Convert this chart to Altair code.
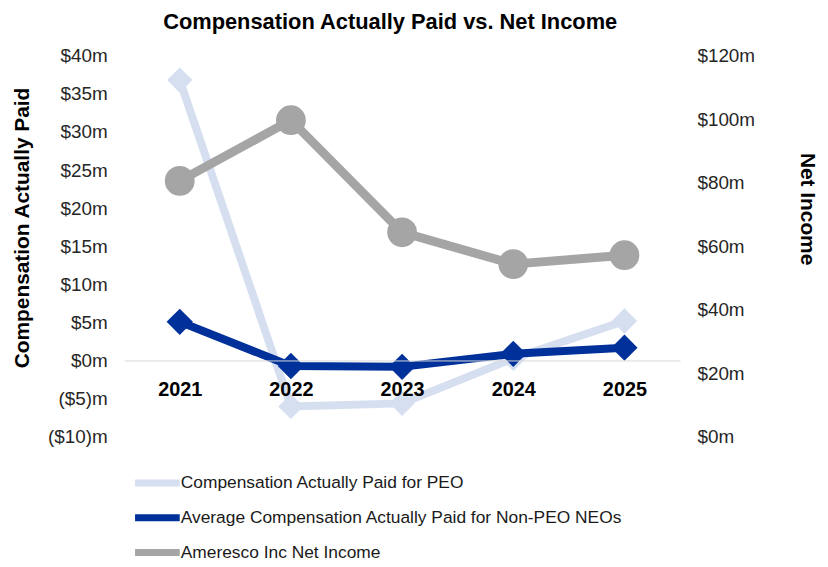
import altair as alt
import pandas as pd

years = ["2021", "2022", "2023", "2024", "2025"]
peo_cap = [36.8, -6.0, -5.6, 0.3, 5.2]
neo_cap = [5.1, -0.7, -0.8, 0.9, 1.7]
net_income = [80.6, 99.7, 64.4, 54.4, 57.2]

s_peo = "Compensation Actually Paid for PEO"
s_neo = "Average Compensation Actually Paid for Non-PEO NEOs"
s_ni = "Ameresco Inc Net Income"
series = [s_peo, s_neo, s_ni]
colors = ["#D5DFF0", "#00309A", "#A5A5A5"]

left_ticks = list(range(-10, 41, 5))
right_ticks = list(range(0, 121, 20))

df_peo = pd.DataFrame({"year": years, "value": peo_cap, "series": [s_peo] * 5})
df_neo = pd.DataFrame({"year": years, "value": neo_cap, "series": [s_neo] * 5})
df_ni = pd.DataFrame({"year": years, "value": net_income, "series": [s_ni] * 5})

FONT = "Liberation Sans"

color = alt.Color(
    "series:N",
    scale=alt.Scale(domain=series, range=colors),
    legend=alt.Legend(
        title=None, orient="none", legendX=20, legendY=417,
        symbolType="M-2.25,0H2.25", symbolSize=400, symbolStrokeWidth=7,
        labelFont=FONT, labelFontSize=17.5, labelColor="#1a1a1a",
        labelOffset=10, rowPadding=6, labelLimit=600,
    ),
)

x = alt.X(
    "year:O",
    scale=alt.Scale(type="point", padding=0.5),
    axis=alt.Axis(
        title=None, labelAngle=0, labelFont=FONT, labelFontSize=20,
        labelFontWeight="bold", labelColor="#000000", ticks=False, grid=False,
        domainColor="#D9D9D9", domainWidth=1, offset=-77, labelPadding=19,
        zindex=1,
    ),
)

y_left = alt.Y(
    "value:Q",
    scale=alt.Scale(domain=[-10, 40], nice=False, zero=False),
    axis=alt.Axis(
        values=left_ticks, grid=False, domain=False, ticks=False,
        labelExpr="datum.value < 0 ? '($' + abs(datum.value) + ')m' : '$' + datum.value + 'm'",
        labelFont=FONT, labelFontSize=19, labelColor="#262626", labelPadding=17,
        title="Compensation Actually Paid", titleFont=FONT, titleFontSize=21,
        titleFontWeight="bold", titleColor="#000000", titlePadding=15,
        titleY=173,
    ),
)
y_right = alt.Y(
    "value:Q",
    scale=alt.Scale(domain=[0, 120], nice=False),
    axis=alt.Axis(
        orient="right", values=right_ticks, grid=False, domain=False, ticks=False,
        labelExpr="'$' + datum.value + 'm'",
        labelFont=FONT, labelFontSize=19, labelColor="#262626", labelPadding=17,
        title="Net Income", titleFont=FONT, titleFontSize=21,
        titleFontWeight="bold", titleColor="#000000", titlePadding=42,
        titleY=154,
    ),
)

enc_left = dict(x=x, y=y_left, color=color)
enc_right = dict(x=x, y=y_right, color=color)

peo_line = alt.Chart(df_peo).mark_line(strokeWidth=8).encode(**enc_left)
peo_pts = alt.Chart(df_peo).mark_point(shape="diamond", filled=True, size=650, opacity=1).encode(**enc_left)
neo_line = alt.Chart(df_neo).mark_line(strokeWidth=8).encode(**enc_left)
neo_pts = alt.Chart(df_neo).mark_point(shape="diamond", filled=True, size=700, opacity=1).encode(**enc_left)
left = alt.layer(peo_line, peo_pts, neo_line, neo_pts)

ni_line = alt.Chart(df_ni).mark_line(strokeWidth=9).encode(**enc_right)
ni_pts = alt.Chart(df_ni).mark_point(shape="circle", filled=True, size=900, opacity=1).encode(**enc_right)
right = alt.layer(ni_line, ni_pts)

chart = (
    alt.layer(left, right)
    .resolve_scale(y="independent")
    .properties(
        width=560, height=384,
        padding={"left": 3, "top": 1, "right": 2, "bottom": 0},
        title=alt.TitleParams(
            "Compensation Actually Paid vs. Net Income",
            font=FONT, fontSize=22, fontWeight="bold", color="#000000",
            anchor="middle", offset=13, dx=-12,
        ),
    )
    .configure(background="#ffffff")
    .configure_view(strokeWidth=0, stroke="transparent")
)

chart.save("out.html", embed_options={"renderer": "svg", "actions": False})
